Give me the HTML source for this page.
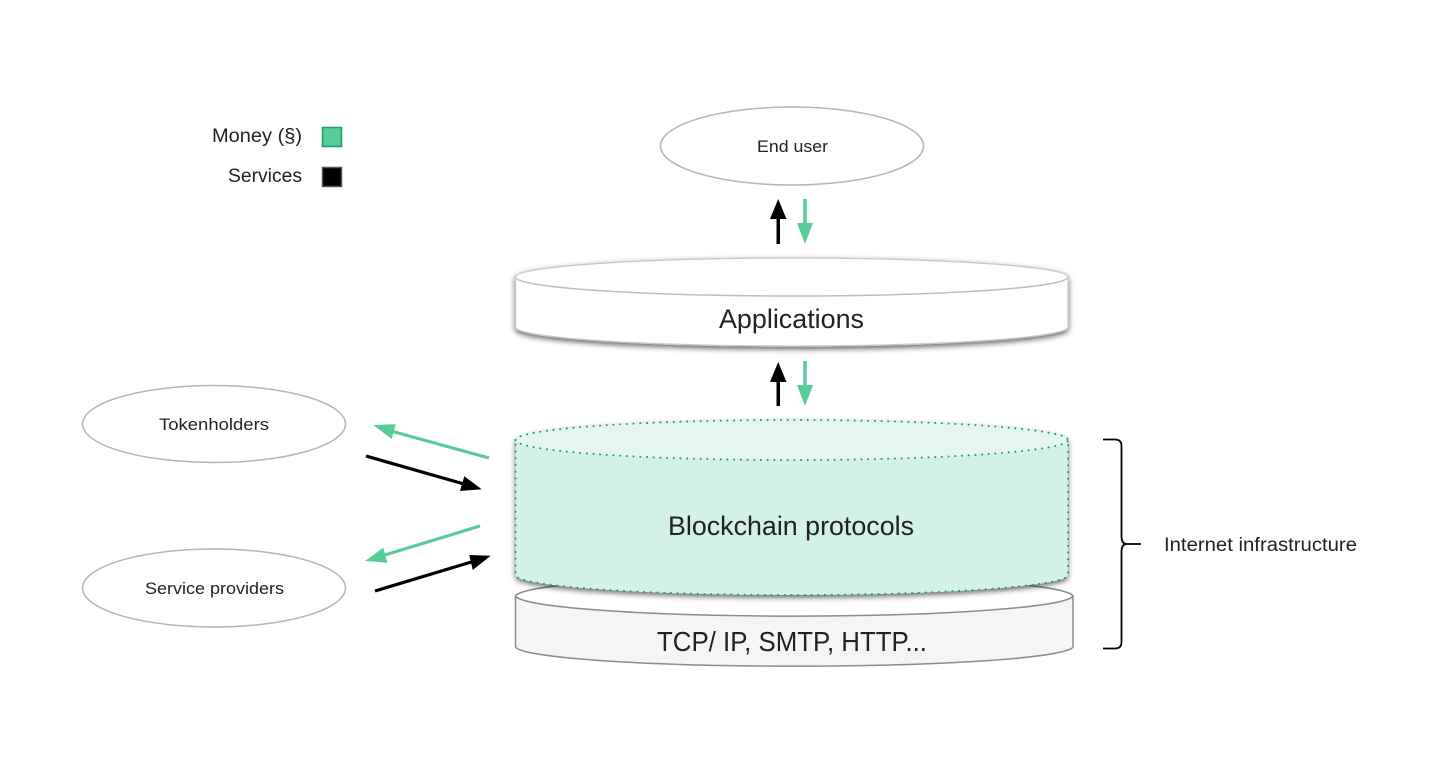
<!DOCTYPE html>
<html>
<head>
<meta charset="utf-8">
<style>
html,body{margin:0;padding:0;background:#fff;width:1456px;height:759px;overflow:hidden}
svg{display:block}
text{font-family:"Liberation Sans",sans-serif;fill:#222}
</style>
</head>
<body>
<svg width="1456" height="759" viewBox="0 0 1456 759" xmlns="http://www.w3.org/2000/svg">
<defs>
<filter id="sh" x="-5%" y="-10%" width="110%" height="130%">
<feDropShadow dx="0" dy="2.500" stdDeviation="3" flood-color="#000" flood-opacity="0.6"/>
</filter>
</defs>
<rect width="1456" height="759" fill="#fff"/>

<!-- legend -->
<text x="212" y="142" font-size="19.500" textLength="90" lengthAdjust="spacingAndGlyphs">Money (§)</text>
<text x="228" y="182" font-size="19.500" textLength="74" lengthAdjust="spacingAndGlyphs">Services</text>
<rect x="322.500" y="127.500" width="19" height="19" fill="#58cc98" stroke="#1f9e68" stroke-width="1.500"/>
<rect x="322.500" y="167.500" width="19" height="19" fill="#000" stroke="#555" stroke-width="1.500"/>

<!-- ellipses -->
<ellipse cx="792" cy="146" rx="131.500" ry="39" fill="#fff" stroke="#b5b5b5" stroke-width="1.500"/>
<text x="757" y="152" font-size="16.500" textLength="71" lengthAdjust="spacingAndGlyphs">End user</text>
<ellipse cx="214" cy="424" rx="131.500" ry="38.500" fill="#fff" stroke="#b5b5b5" stroke-width="1.500"/>
<text x="159" y="430" font-size="16.500" textLength="110" lengthAdjust="spacingAndGlyphs">Tokenholders</text>
<ellipse cx="214" cy="588" rx="131.500" ry="39" fill="#fff" stroke="#b5b5b5" stroke-width="1.500"/>
<text x="145" y="594" font-size="16.500" textLength="139" lengthAdjust="spacingAndGlyphs">Service providers</text>

<!-- TCP cylinder -->
<path d="M515.500 596 A279 21 0 0 1 1073 596 V647 A279 20 0 0 1 515.500 647 Z" fill="#f5f5f5" stroke="#8c8c8c" stroke-width="1.500"/>
<path d="M515.500 596 A279 21 0 0 0 1073 596 A279 21 0 0 0 515.500 596 Z" fill="#fff" stroke="#8c8c8c" stroke-width="1.500"/>
<text x="657" y="651" font-size="27.500" textLength="270" lengthAdjust="spacingAndGlyphs">TCP/ IP, SMTP, HTTP...</text>

<!-- Applications cylinder -->
<path d="M515.500 277 A276.250 19 0 0 1 1068 277 V327 A276.250 19 0 0 1 515.500 327 Z" fill="#fff" stroke="#c8c8c8" stroke-width="1.300" filter="url(#sh)"/>
<path d="M515.500 277 A276.250 19 0 0 0 1068 277" fill="none" stroke="#bdbdbd" stroke-width="1.500"/>
<text x="719" y="328" font-size="27" textLength="145" lengthAdjust="spacingAndGlyphs">Applications</text>

<!-- Blockchain cylinder -->
<path d="M515.500 440 A276.250 20 0 0 1 1068 440 V575 A276.250 20 0 0 1 515.500 575 Z" fill="#d1f2e4" filter="url(#sh)"/>
<ellipse cx="791.750" cy="440" rx="276.250" ry="20" fill="#e4f6ee"/>
<path d="M515.500 440 A276.250 20 0 0 1 1068 440 V575 A276.250 20 0 0 1 515.500 575 Z" fill="none" stroke="#1f9e68" stroke-width="2" stroke-linecap="round" stroke-dasharray="0.100 6.600"/>
<path d="M515.500 440 A276.250 20 0 0 0 1068 440" fill="none" stroke="#1f9e68" stroke-width="2" stroke-linecap="round" stroke-dasharray="0.100 6.600"/>
<text x="668" y="535" font-size="26.500" textLength="246" lengthAdjust="spacingAndGlyphs">Blockchain protocols</text>

<!-- vertical arrows -->
<g fill="#000" stroke="none">
<rect x="776.500" y="216" width="3.500" height="28"/>
<polygon points="778.200,199 786.500,219 770,219"/>
<rect x="776.500" y="379" width="3.500" height="27"/>
<polygon points="778.200,362 786.500,382 770,382"/>
</g>
<g fill="#58cc98" stroke="none">
<rect x="803.200" y="199" width="3.500" height="28"/>
<polygon points="805,244 813,223 797,223"/>
<rect x="803.200" y="361" width="3.500" height="28"/>
<polygon points="805,406 813,385 797,385"/>
</g>

<!-- diagonal arrows -->
<g stroke-width="3.200" fill="none">
<line x1="489" y1="458" x2="391" y2="431" stroke="#58cc98"/>
<line x1="366" y1="456" x2="464" y2="484" stroke="#000"/>
<line x1="480" y1="526" x2="383" y2="555.500" stroke="#58cc98"/>
<line x1="375" y1="591" x2="473" y2="561.500" stroke="#000"/>
</g>
<polygon points="373.300,425 395.700,424.300 391.700,439" fill="#58cc98"/>
<polygon points="481.700,489.300 464.300,476.300 460,491" fill="#000"/>
<polygon points="365,561 383.300,547.700 387.300,562.700" fill="#58cc98"/>
<polygon points="490.700,555.700 469.300,555 472.700,570" fill="#000"/>

<!-- brace -->
<path d="M1103 439.500 H1115 Q1121.500 439.500 1121.500 446 V536 Q1121.500 544 1127 544 H1141 H1127 Q1121.500 544 1121.500 552 V642 Q1121.500 648.500 1115 648.500 H1103" fill="none" stroke="#000" stroke-width="1.800"/>
<text x="1164" y="551" font-size="19" textLength="193" lengthAdjust="spacingAndGlyphs">Internet infrastructure</text>
</svg>
</body>
</html>
